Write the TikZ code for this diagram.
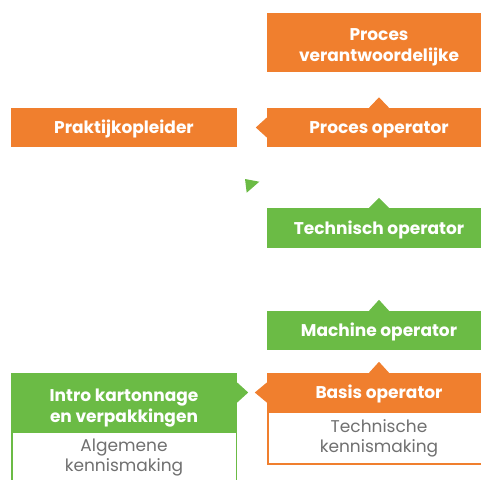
\documentclass[tikz,border=0pt]{standalone}
\usepackage{fontspec}
\setmainfont{Poppins}
\definecolor{org}{HTML}{F07F2E}
\definecolor{grn}{HTML}{6BBB45}
\definecolor{txtgray}{HTML}{707070}
\begin{document}
\begin{tikzpicture}[x=1pt,y=-1pt,
  hdr/.style={rectangle, inner sep=0pt, text=white, font=\bfseries\fontsize{17}{21}\selectfont, align=center, minimum width=224pt},
  oneline/.style={text height=12.5pt, text depth=0pt},
  twoline/.style={text height=38pt, text depth=0pt},
  bodybox/.style={rectangle, inner sep=0pt, fill=white, line width=1.5pt, text=txtgray, font=\fontsize{17}{20}\selectfont, align=center, minimum width=222.5pt},
  bodytext/.style={text=txtgray, font=\fontsize{17}{20}\selectfont, align=center, inner sep=0pt}]
\useasboundingbox (0,0) rectangle (481,479);
\begin{scope}
\clip (0,0) rectangle (481,479);
\node[hdr, twoline, fill=org, minimum height=59pt] (pv) at (379,42.5) {Proces\\verantwoordelijke};
\node[hdr, oneline, fill=org, minimum height=39pt] (po) at (379,127.5) {Proces operator};
\node[hdr, oneline, fill=org, minimum width=226pt, minimum height=39pt] (pk) at (124,127.5) {Praktijkopleider};
\node[hdr, oneline, fill=grn, minimum height=40pt] (to) at (379,228) {Technisch operator};
\node[hdr, oneline, fill=grn, minimum height=39pt] (mo) at (379,330.5) {Machine operator};
\node[hdr, oneline, fill=org, minimum height=39pt] (bo) at (379,392.5) {Basis operator};
\node[bodybox, draw=org, minimum height=52pt, anchor=north] (bob) at ([yshift=0.75pt]bo.south) {};
\node[bodytext, anchor=north] (bot) at ([yshift=-7pt]bo.south) {Technische\\kennismaking};
\node[hdr, twoline, text height=39.5pt, fill=grn, minimum width=226pt, minimum height=59pt] (ik) at (124,402.5) {Intro kartonnage\\en verpakkingen};
\node[bodybox, draw=grn, minimum width=224.5pt, minimum height=70pt, anchor=north] (ikb) at ([yshift=0.75pt]ik.south) {};
\node[bodytext, anchor=north] (ikt) at ([yshift=-7pt]ik.south) {Algemene\\kennismaking};
% pointers
\fill[org] ([xshift=-10pt]po.north) -- ([yshift=10.5pt]po.north) -- ([xshift=10pt]po.north) -- cycle;
\fill[org] ([yshift=10pt]po.west) -- ([xshift=-11pt]po.west) -- ([yshift=-10pt]po.west) -- cycle;
\fill[grn] ([xshift=-10pt]to.north) -- ([yshift=10pt]to.north) -- ([xshift=10pt]to.north) -- cycle;
\fill[grn] ([xshift=-10pt]mo.north) -- ([yshift=11pt]mo.north) -- ([xshift=10pt]mo.north) -- cycle;
\fill[org] ([xshift=-10pt]bo.north) -- ([yshift=11pt]bo.north) -- ([xshift=10pt]bo.north) -- cycle;
\fill[org] ([yshift=10pt]bo.west) -- ([xshift=-12pt]bo.west) -- ([yshift=-10pt]bo.west) -- cycle;
\coordinate (ikr) at (ik.east |- bo.west);
\fill[grn] ([yshift=10pt]ikr) -- ([xshift=11pt]ikr) -- ([yshift=-10pt]ikr) -- cycle;
\coordinate (gt) at (245,179);
\fill[grn] (gt) -- (259.3,181.7) -- (246.7,192.7) -- cycle;
\end{scope}
\end{tikzpicture}
\end{document}
